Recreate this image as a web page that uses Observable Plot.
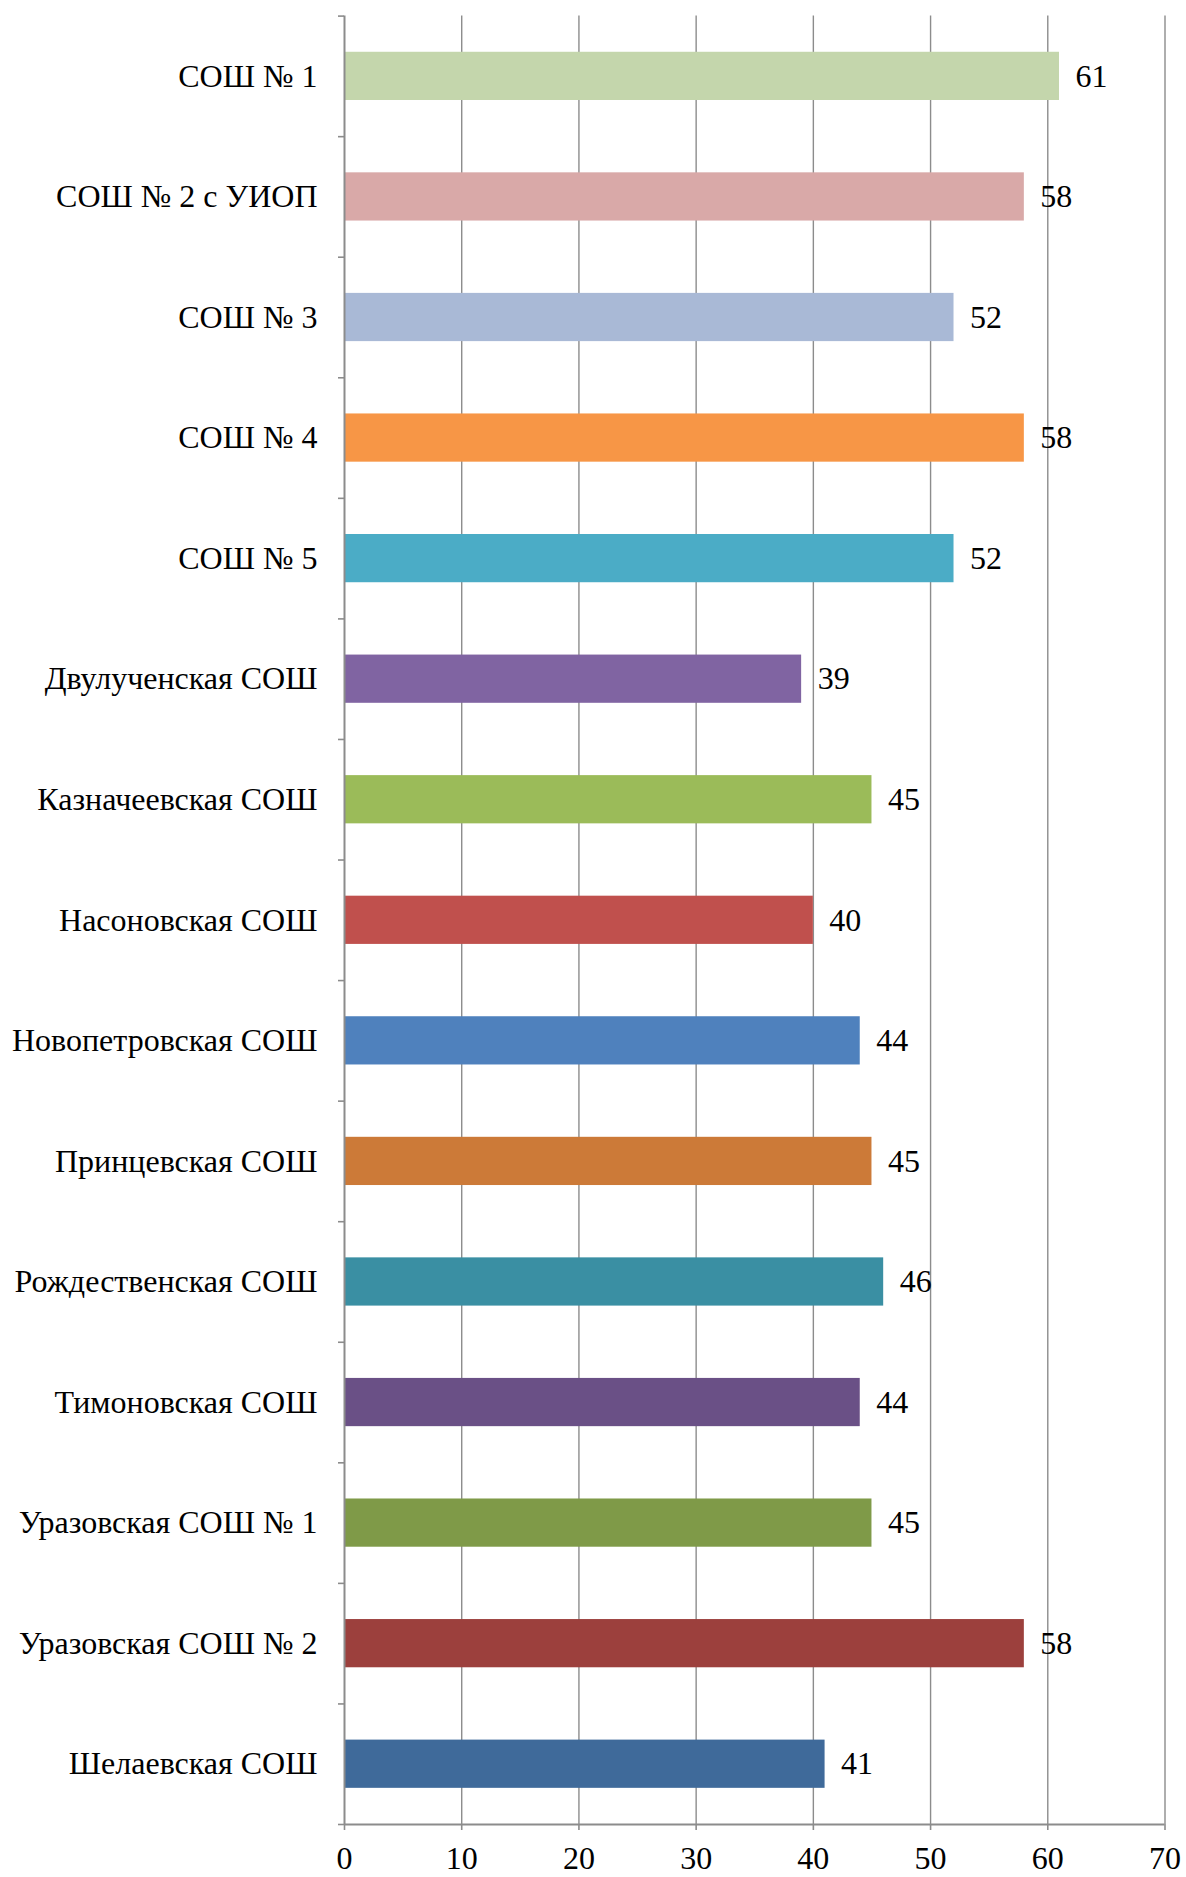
<!DOCTYPE html>
<html>
<head>
<meta charset="utf-8">
<script src="https://cdn.jsdelivr.net/npm/d3@7"></script>
<script src="https://cdn.jsdelivr.net/npm/@observablehq/plot@0.6"></script>
<style>
  html, body { margin: 0; padding: 0; background: #fff; }
  #chart svg { display: block; }
  #chart svg text { font-family: "Liberation Serif", "Times New Roman", "DejaVu Serif", serif; font-variant: normal !important; }
</style>
</head>
<body>
<div id="chart"></div>
<script>
const schools = [
  "СОШ № 1",
  "СОШ № 2 с УИОП",
  "СОШ № 3",
  "СОШ № 4",
  "СОШ № 5",
  "Двулученская СОШ",
  "Казначеевская СОШ",
  "Насоновская СОШ",
  "Новопетровская СОШ",
  "Принцевская СОШ",
  "Рождественская СОШ",
  "Тимоновская СОШ",
  "Уразовская СОШ № 1",
  "Уразовская СОШ № 2",
  "Шелаевская СОШ"
];
const values = [61, 58, 52, 58, 52, 39, 45, 40, 44, 45, 46, 44, 45, 58, 41];
const colors = [
  "#C4D6AC", "#D9A9A8", "#A9B9D6", "#F79646", "#4BACC6",
  "#8064A2", "#9BBB59", "#C0504D", "#4F81BD", "#CC7A38",
  "#3A8FA3", "#6A5086", "#7F9A48", "#9C403D", "#3F6A9A"
];
const xTicks = [0, 10, 20, 30, 40, 50, 60, 70];

const data = schools.map((s, i) => ({school: s, value: values[i], color: colors[i]}));

const width = 1186, height = 1877;
const marginTop = 15.6, marginBottom = 53, marginLeft = 344, marginRight = 21.5;
const step = (height - marginTop - marginBottom) / schools.length;
const font = "Liberation Serif";
const fs = 32;
const gridColor = "#8c8c8c";
const last = schools[schools.length - 1];

const chart = Plot.plot({
  width, height, marginTop, marginBottom, marginLeft, marginRight,
  style: {fontFamily: "'Liberation Serif', serif", fontSize: fs + "px", color: "#000", background: "#fff"},
  x: {domain: [0, 70], ticks: xTicks},
  y: {domain: schools, paddingInner: 0.6, paddingOuter: 0.3, round: false, label: null},
  marks: [
    Plot.ruleX(xTicks.slice(1), {stroke: gridColor, strokeWidth: 1.4}),
    Plot.barX(data, {x: "value", y: "school", fill: "color"}),
    Plot.ruleX([0], {stroke: gridColor, strokeWidth: 2}),
    Plot.ruleY([last], {y: d => d, x1: 0, x2: 70, dy: step / 2, stroke: gridColor, strokeWidth: 2}),
    Plot.axisY({tickSize: 6, tickFormat: () => "", dy: -step / 2, stroke: gridColor, strokeWidth: 1.6}),
    Plot.axisY([last], {tickSize: 6, tickFormat: () => "", dy: step / 2, stroke: gridColor, strokeWidth: 1.6}),
    Plot.axisY({tickSize: 0, tickPadding: 27, fontSize: fs, fontFamily: font, fontVariant: "normal", fill: "#000", label: null}),
    Plot.axisX({ticks: xTicks, tickSize: 6, tickPadding: 16, fontSize: fs, fontFamily: font, fontVariant: "normal", stroke: gridColor, strokeWidth: 1.6, fill: "#000", label: null}),
    Plot.text(data, {x: "value", y: "school", text: d => String(d.value), textAnchor: "start", dx: 16, fontSize: fs, fontFamily: font, fontVariant: "normal", fill: "#000"})
  ]
});
document.getElementById("chart").appendChild(chart);
</script>
</body>
</html>
